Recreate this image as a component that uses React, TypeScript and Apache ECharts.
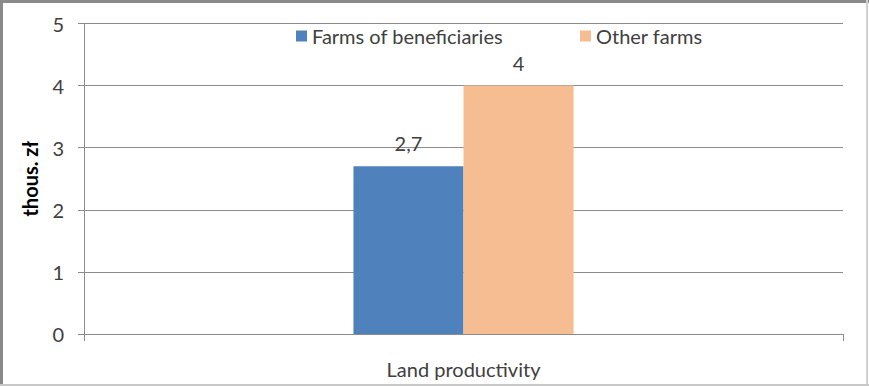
import React, { useEffect, useRef } from "react";
import * as echarts from "echarts";

const categories = ["Land productivity"];
const seriesNames = ["Farms of beneficiaries", "Other farms"];
const beneficiaries = [2.7];
const otherFarms = [4];
const yTicks = { min: 0, max: 5, interval: 1 };
const yAxisName = "thous. zł";

const FONT = "Lato, 'Liberation Sans', sans-serif";
const AXIS_GRAY = "#8C8C8C";
const TEXT = "#404040";

export default function App() {
  const ref = useRef<HTMLDivElement>(null);
  useEffect(() => {
    document.body.style.margin = "0";
    const chart = echarts.init(ref.current!, undefined, { renderer: "svg" });
    const labelFmt = (p: any) => String(p.value).replace(".", ",");
    chart.setOption({
      animation: false,
      backgroundColor: "#ffffff",
      textStyle: { fontFamily: FONT },
      graphic: [
        { type: "rect", shape: { x: 0, y: 0, width: 869, height: 3 }, style: { fill: "#8A8A8A" }, silent: true },
        { type: "rect", shape: { x: 0, y: 0, width: 3, height: 386 }, style: { fill: "#8A8A8A" }, silent: true },
        { type: "rect", shape: { x: 866, y: 0, width: 2, height: 386 }, style: { fill: "#D0D0D0" }, silent: true },
        { type: "rect", shape: { x: 0, y: 384, width: 869, height: 2 }, style: { fill: "#C8C8C8" }, silent: true },
      ],
      legend: [
        {
          left: 291,
          top: 21,
          itemWidth: 11,
          itemHeight: 11,
          itemGap: 8,
          icon: "rect",
          data: [seriesNames[0]],
          textStyle: { fontSize: 20, color: TEXT, fontFamily: FONT },
        },
        {
          left: 575,
          top: 21,
          itemWidth: 11,
          itemHeight: 11,
          icon: "rect",
          data: [seriesNames[1]],
          textStyle: { fontSize: 20, color: TEXT, fontFamily: FONT },
        },
      ],
      grid: { left: 84, right: 26, top: 23.5, bottom: 52, containLabel: false },
      xAxis: {
        type: "category",
        data: categories,
        boundaryGap: true,
        axisLine: { lineStyle: { color: AXIS_GRAY, width: 1 } },
        axisTick: { show: true, length: 7, interval: 0, alignWithLabel: false, lineStyle: { color: AXIS_GRAY } },
        axisLabel: { fontSize: 20, color: TEXT, margin: 25, fontFamily: FONT },
      },
      yAxis: {
        type: "value",
        min: yTicks.min,
        max: yTicks.max,
        interval: yTicks.interval,
        name: yAxisName,
        nameLocation: "middle",
        nameGap: 44,
        nameRotate: 90,
        nameTextStyle: { fontSize: 20, fontWeight: "bold", color: "#000", fontFamily: FONT },
        axisLine: { show: true, lineStyle: { color: AXIS_GRAY } },
        axisTick: { show: true, length: 6, lineStyle: { color: AXIS_GRAY } },
        splitLine: { show: true, lineStyle: { color: AXIS_GRAY, width: 1 } },
        axisLabel: { fontSize: 20, color: TEXT, margin: 20, fontFamily: FONT },
      },
      series: [
        {
          name: seriesNames[0],
          type: "bar",
          data: beneficiaries,
          barGap: "0%",
          barCategoryGap: "71%",
          itemStyle: { color: "#4F81BD" },
          label: { show: true, position: "top", distance: 13, fontSize: 20, color: TEXT, formatter: labelFmt, fontFamily: FONT },
        },
        {
          name: seriesNames[1],
          type: "bar",
          data: otherFarms,
          barGap: "0%",
          barCategoryGap: "71%",
          itemStyle: { color: "#F5BD91" },
          label: { show: true, position: "top", distance: 13, fontSize: 20, color: TEXT, formatter: labelFmt, fontFamily: FONT },
        },
      ],
    });
    return () => chart.dispose();
  }, []);
  return <div ref={ref} style={{ position: "absolute", left: 0, top: 0, width: 869, height: 386 }} />;
}
